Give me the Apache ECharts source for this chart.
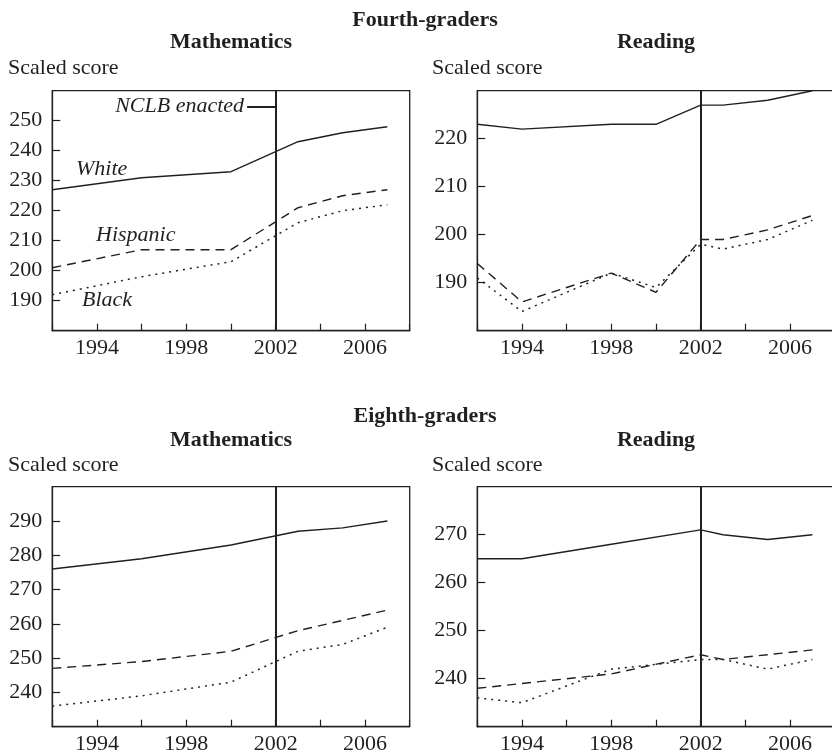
<!DOCTYPE html>
<html>
<head>
<meta charset="utf-8">
<script src="https://cdn.jsdelivr.net/npm/echarts@6/dist/echarts.min.js"></script>
<style>
  html, body { margin: 0; padding: 0; background: #fff; }
  #chart { width: 832px; height: 755px; }
</style>
</head>
<body>
<div id="chart"></div>
<script>
// NAEP scaled scores by race/ethnicity, fourth and eighth grade
const years4Math = [1992, 1996, 2000, 2003, 2005, 2007];
const m4White    = [227, 231, 233, 243, 246, 248];
const m4Hispanic = [201, 207, 207, 221, 225, 227];
const m4Black    = [192, 198, 203, 216, 220, 222];

const years4Read = [1992, 1994, 1998, 2000, 2002, 2003, 2005, 2007];
const r4White    = [223, 222, 223, 223, 227, 227, 228, 230];
const r4Hispanic = [194, 186, 192, 188, 199, 199, 201, 204];
const r4Black    = [191, 184, 192, 189, 198, 197, 199, 203];

const years8Math = [1992, 1996, 2000, 2003, 2005, 2007];
const m8White    = [276, 279, 283, 287, 288, 290];
const m8Hispanic = [247, 249, 252, 258, 261, 264];
const m8Black    = [236, 239, 243, 252, 254, 259];

const years8Read = [1992, 1994, 1998, 2002, 2003, 2005, 2007];
const r8White    = [265, 265, 268, 271, 270, 269, 270];
const r8Hispanic = [238, 239, 241, 245, 244, 245, 246];
const r8Black    = [236, 235, 242, 244, 244, 242, 244];

const xTickLabels = [1994, 1998, 2002, 2006];
const nclbYear = 2002;
const nclbLabel = 'NCLB enacted';

const INK = '#231f20';
const SERIF = '"Liberation Serif", "Times New Roman", serif';
const FS = 22;

const chart = echarts.init(document.getElementById('chart'), null, { renderer: 'canvas' });

// panel placement and value range of each panel
const panels = [
  { left: 52.3,  top: 90.7,  yMin: 180, yMax: 260 },
  { left: 477.3, top: 90.7,  yMin: 180, yMax: 230 },
  { left: 52.3,  top: 486.7, yMin: 230, yMax: 300 },
  { left: 477.3, top: 486.7, yMin: 230, yMax: 280 }
];
const PW = 357.4, PH = 240;

const grids = panels.map(p => ({
  left: p.left, top: p.top, width: PW, height: PH,
  show: true, borderColor: INK, borderWidth: 1.3, backgroundColor: 'transparent',
  containLabel: false, outerBoundsMode: 'none'
}));

const xAxes = panels.map((p, i) => ({
  type: 'value', gridIndex: i, min: 1992, max: 2008, interval: 2,
  splitLine: { show: false },
  axisLine: { show: true, lineStyle: { color: INK, width: 1.3 } },
  axisTick: { show: true, inside: true, length: 7, lineStyle: { color: INK, width: 1.2 } },
  axisLabel: {
    margin: 7, color: INK, fontFamily: SERIF, fontSize: FS,
    formatter: v => xTickLabels.includes(v) ? String(v) : ''
  }
}));

const yAxes = panels.map((p, i) => ({
  type: 'value', gridIndex: i, min: p.yMin, max: p.yMax, interval: 10,
  splitLine: { show: false },
  axisLine: { show: true, lineStyle: { color: INK, width: 1.3 } },
  axisTick: { show: true, inside: true, length: 8, lineStyle: { color: INK, width: 1.2 } },
  axisLabel: {
    margin: 10, color: INK, fontFamily: SERIF, fontSize: FS,
    showMinLabel: false, showMaxLabel: false
  }
}));

const pairs = (xs, ys) => xs.map((x, k) => [x, ys[k]]);

const solid  = { color: INK, width: 1.4, type: 'solid' };
const dashed = { color: INK, width: 1.4, type: [9, 6] };
const dotted = { color: INK, width: 1.5, type: [2, 5] };

function nclbMarkLine(withLabel) {
  const data = [{ xAxis: nclbYear }];
  if (withLabel) {
    data.push([
      { coord: [2000.72, 254.7], label: { show: true, position: 'start', formatter: nclbLabel,
        distance: 3, color: INK, fontFamily: SERIF, fontSize: FS, fontStyle: 'italic' } },
      { coord: [nclbYear, 254.7] }
    ]);
  }
  return {
    silent: true, symbol: ['none', 'none'], animation: false,
    lineStyle: { color: INK, width: 2, type: 'solid' },
    label: { show: false },
    emphasis: { disabled: true },
    data: data
  };
}

function line(name, idx, xs, ys, style, mark) {
  const s = {
    name: name, type: 'line', xAxisIndex: idx, yAxisIndex: idx,
    data: pairs(xs, ys), showSymbol: false, symbol: 'none', smooth: false,
    lineStyle: style, emphasis: { disabled: true }, silent: true, z: 3
  };
  if (mark) s.markLine = mark;
  return s;
}

const series = [
  line('White', 0, years4Math, m4White, solid, nclbMarkLine(true)),
  line('Hispanic', 0, years4Math, m4Hispanic, dashed),
  line('Black', 0, years4Math, m4Black, dotted),

  line('White', 1, years4Read, r4White, solid, nclbMarkLine(false)),
  line('Hispanic', 1, years4Read, r4Hispanic, dashed),
  line('Black', 1, years4Read, r4Black, dotted),

  line('White', 2, years8Math, m8White, solid, nclbMarkLine(false)),
  line('Hispanic', 2, years8Math, m8Hispanic, dashed),
  line('Black', 2, years8Math, m8Black, dotted),

  line('White', 3, years8Read, r8White, solid, nclbMarkLine(false)),
  line('Hispanic', 3, years8Read, r8Hispanic, dashed),
  line('Black', 3, years8Read, r8Black, dotted)
];

function txt(text, x, y, font, align) {
  return {
    type: 'text', x: x, y: y, silent: true, z: 10,
    style: {
      text: text, font: font, fill: INK,
      align: align, textAlign: align,
      verticalAlign: 'middle', textVerticalAlign: 'middle'
    }
  };
}
const BOLD = 'bold ' + FS + 'px ' + SERIF;
const REG = FS + 'px ' + SERIF;
const ITAL = 'italic ' + FS + 'px ' + SERIF;

const graphics = [
  txt('Fourth-graders', 425, 20.5, BOLD, 'center'),
  txt('Mathematics', 231, 42.5, BOLD, 'center'),
  txt('Reading', 656, 42.5, BOLD, 'center'),
  txt('Scaled score', 8, 68.5, REG, 'left'),
  txt('Scaled score', 432, 68.5, REG, 'left'),

  txt('Eighth-graders', 425, 416, BOLD, 'center'),
  txt('Mathematics', 231, 440, BOLD, 'center'),
  txt('Reading', 656, 440, BOLD, 'center'),
  txt('Scaled score', 8, 465, REG, 'left'),
  txt('Scaled score', 432, 465, REG, 'left'),

  // group names beside the fourth-grade mathematics lines
  txt('White', 76, 169, ITAL, 'left'),
  txt('Hispanic', 96, 235, ITAL, 'left'),
  txt('Black', 82, 300, ITAL, 'left')
];

chart.setOption({
  animation: false,
  backgroundColor: '#ffffff',
  grid: grids,
  xAxis: xAxes,
  yAxis: yAxes,
  series: series,
  graphic: { elements: graphics }
});
</script>
</body>
</html>
